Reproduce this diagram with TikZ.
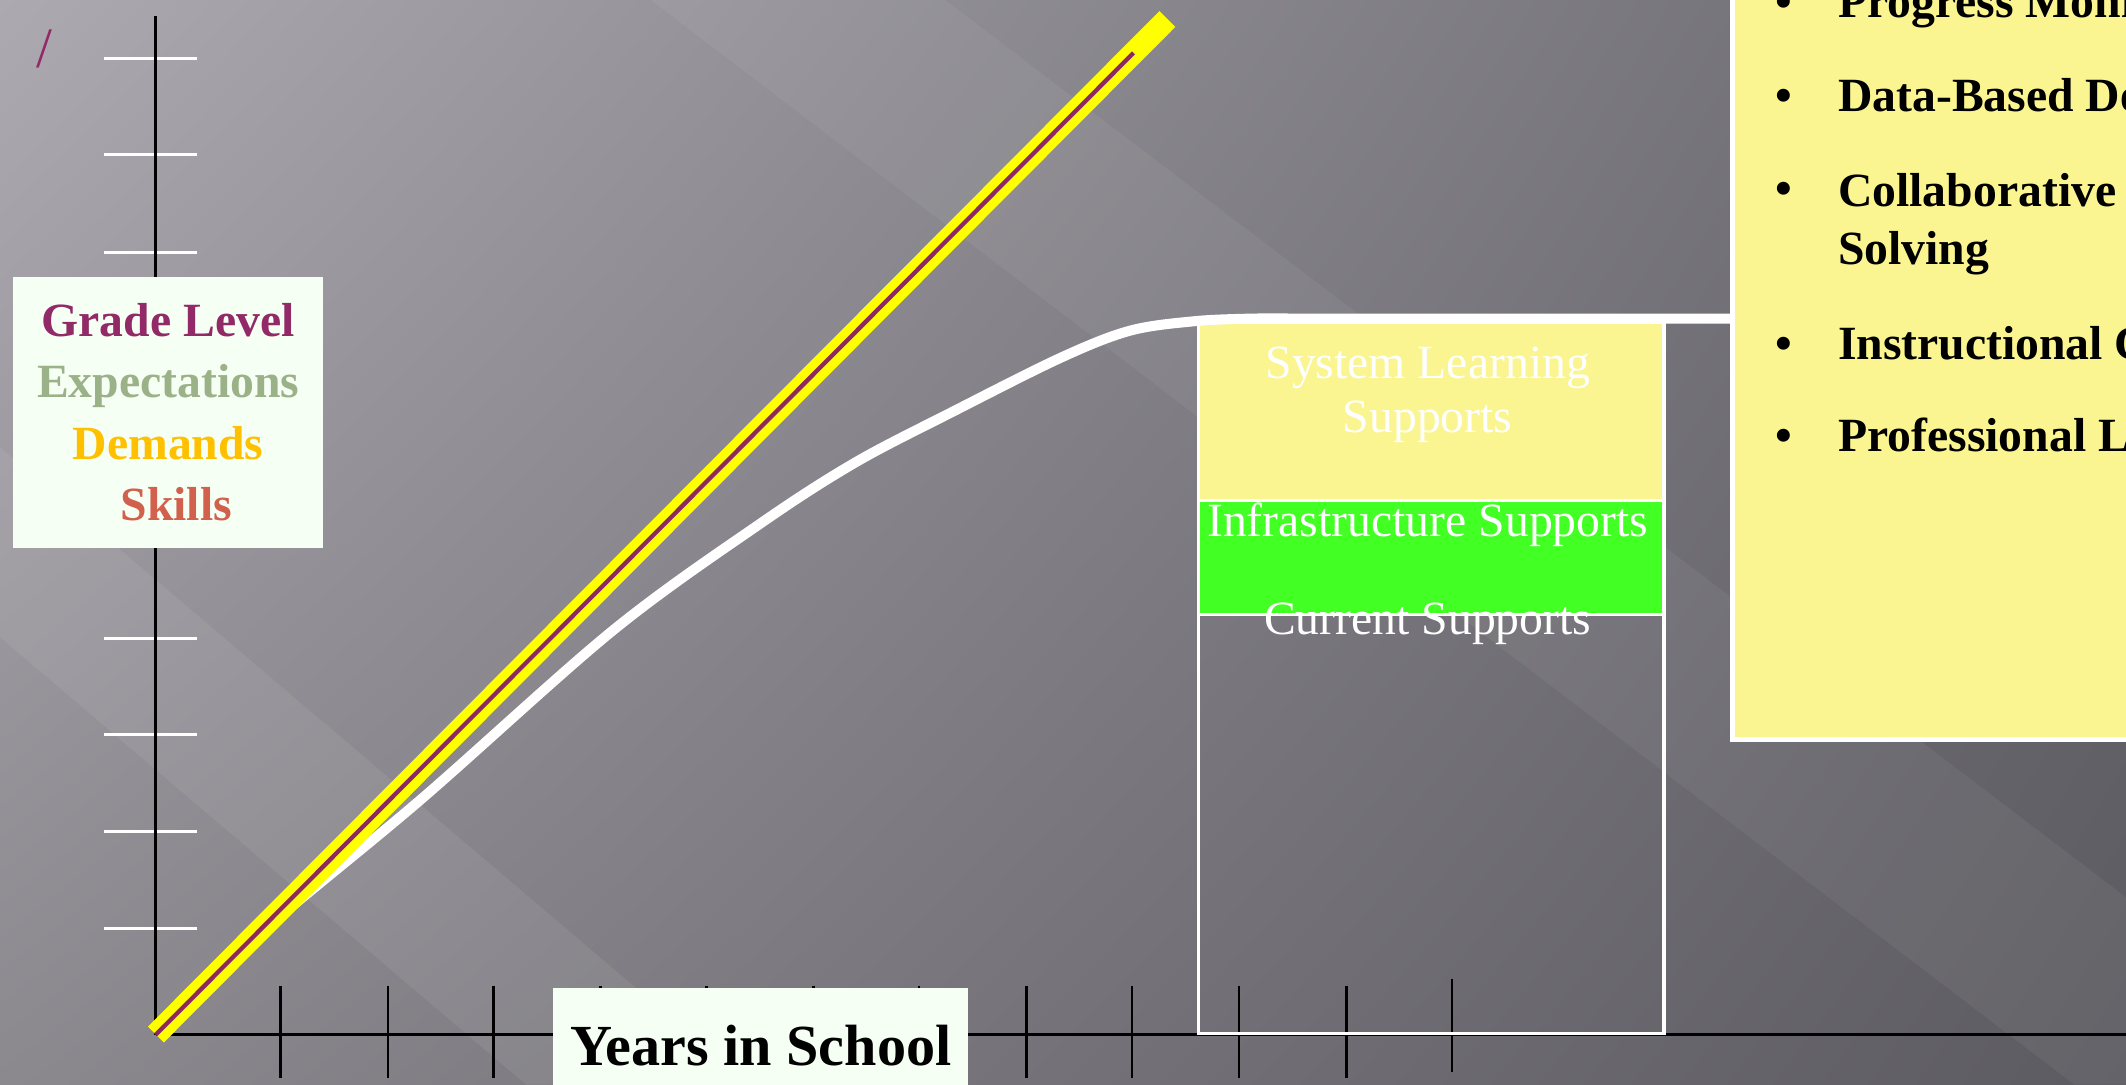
\documentclass[tikz,border=0pt]{standalone}
\usepackage{fontspec}
\setmainfont{Liberation Serif}
\usepackage{xcolor}
\usepackage{tikz}
\usetikzlibrary{positioning,shadings}
\definecolor{bgUL}{HTML}{ACA9B0}
\definecolor{bgUR}{HTML}{6B6A70}
\definecolor{bgLL}{HTML}{8B888E}
\definecolor{bgLR}{HTML}{5C5B61}
\definecolor{paperWhite}{HTML}{F6FFF4}
\definecolor{noteYellow}{HTML}{FAF590}
\definecolor{infraGreen}{HTML}{42FF24}
\definecolor{gradePurple}{HTML}{912A67}
\definecolor{expectGreen}{HTML}{9BB188}
\definecolor{demandGold}{HTML}{FFC000}
\definecolor{skillRed}{HTML}{D1604D}
\definecolor{lineYellow}{HTML}{FFFF00}
\definecolor{linePurple}{HTML}{8E2860}
\tikzstyle{paperbox} = [rectangle, fill=paperWhite, inner sep=0pt, outer sep=0pt]
\tikzstyle{suppbox} = [rectangle, draw=white, line width=0.7pt,
    minimum width=3.43cm, inner sep=0pt, outer sep=0pt]
\tikzstyle{supptext} = [text=white, font=\fontsize{10}{11.4}\selectfont, align=center, inner sep=0pt]
\tikzstyle{listitem} = [anchor=base west, inner sep=0pt, font=\fontsize{10}{12.2}\selectfont\bfseries]
\tikzstyle{bulletdot} = [anchor=base, inner sep=0pt, font=\fontsize{10}{12.2}\selectfont\bfseries]
\tikzstyle{ytick} = [draw=white, line width=0.6pt]
\tikzstyle{xtick} = [draw=black, line width=0.5pt]
\tikzstyle{axisline} = [draw=black, line width=0.65pt]
\tikzstyle{growthline} = [draw=white, line width=2.1pt]
\tikzstyle{expectband} = [draw=lineYellow, line width=4.7pt]
\tikzstyle{expectline} = [draw=linePurple, line width=0.9pt]

\begin{document}
\begin{tikzpicture}[x=0.01cm, y=-0.01cm]
			\useasboundingbox (0,0) rectangle (1568,800);
			\clip (0,0) rectangle (1568,800);
			% Background
			\shade [upper left=bgUL, upper right=bgUR, lower left=bgLL, lower right=bgLR] (0,0) rectangle (1568,800);
			\fill [white, opacity=0.07] (0,330) -- (553,800) -- (388,800) -- (0,470) -- cycle;
			\fill [white, opacity=0.05] (480,0) -- (697,0) -- (1750,800) -- (1530,800) -- cycle;
			\node [text=gradePurple, inner sep=0pt, font=\fontsize{12}{14}\selectfont] (slashMark) at (33,36) {/};

			% Axes and ticks
			\coordinate (origin) at (115,763);
			\coordinate (yTop) at (115,12);
			\coordinate (xEnd) at (1570,763);
			\path [ytick] (77,43) -- (145,43) (77,114) -- (145,114) (77,186) -- (145,186)
				(77,257) -- (145,257) (77,328) -- (145,328) (77,400) -- (145,400)
				(77,471) -- (145,471) (77,542) -- (145,542) (77,613) -- (145,613) (77,685) -- (145,685);
			\path [axisline] (origin) -- (yTop);
			\path [axisline] (origin) -- (xEnd);
			\path [xtick] (207,727) -- (207,795) (286,727) -- (286,795) (364,727) -- (364,795)
				(443,727) -- (443,795) (521,727) -- (521,795) (600,727) -- (600,795)
				(678,727) -- (678,795) (757,727) -- (757,795) (835,727) -- (835,795)
				(914,727) -- (914,795) (993,727) -- (993,795) (1071,722) -- (1071,791);

			% Supports column
			\node [suppbox, fill=noteYellow, minimum height=1.31cm, anchor=north west] (systemBox) at (884,238) {};
			\node [suppbox, fill=infraGreen, minimum height=0.84cm, below=0pt of systemBox] (infraBox) {};
			\node [suppbox, minimum height=3.09cm, below=0pt of infraBox] (currentBox) {};
			\node [supptext] (systemText) at (1053,291) {System Learning\\Supports};
			\node [supptext, anchor=base] (infraText) at (1053,396) {Infrastructure Supports};
			\node [supptext, anchor=base] (currentText) at (1053,468) {Current Supports};

			% Growth curves
			\coordinate (yellowEnd) at (861,14);
			\coordinate (purpleEnd) at (836,39);
			\coordinate (plateauEnd) at (1280,235);
			\draw [growthline] plot [smooth, tension=0.55] coordinates {(116,762) (190,690) (310,590) (452,465)
				(561,386) (631,341) (702,304) (782,264) (833,244) (880,237) (922,235) (960,235)} -- (plateauEnd);
			\path [expectband] (origin) -- (yellowEnd);
			\path [expectline] (origin) -- (purpleEnd);

			% Labels
			\node [paperbox, minimum width=2.28cm, minimum height=2cm, align=center,
				font=\fontsize{10}{12.9}\selectfont\bfseries] (gradeBox) at (124,304)
				{\textcolor{gradePurple}{Grade Level}\\\textcolor{expectGreen}{Expectations}\\
				\textcolor{demandGold}{Demands}\\\hspace*{0.12cm}\textcolor{skillRed}{Skills}};
			\node [paperbox, minimum width=3.06cm, minimum height=0.84cm, anchor=north west,
				font=\fontsize{12.2}{14}\selectfont\bfseries] (yearsBox) at (408,729) {Years in School};

			% Practices
			\node [rectangle, draw=white, line width=1pt, fill=noteYellow, minimum width=3.4cm,
				minimum height=6cm, inner sep=0pt, anchor=south west] (toolsBox) at (1276,547) {};
			\node [bulletdot] (dotProgress) at (1316,13) {•};
			\node [listitem] (progress) at (1355,13) {Progress Monitoring};
			\node [bulletdot] (dotData) at (1316,82) {•};
			\node [listitem] (dataBased) at (1355,82) {Data-Based Decision Making};
			\node [bulletdot] (dotCollab) at (1316,151) {•};
			\node [listitem, anchor=north west, align=left] (collab) at (1355,127) {Collaborative Problem\\Solving};
			\node [bulletdot] (dotInstr) at (1316,265) {•};
			\node [listitem] (instr) at (1355,265) {Instructional Coaching};
			\node [bulletdot] (dotProf) at (1316,333) {•};
			\node [listitem] (prof) at (1355,333) {Professional Learning};
%
	\end{tikzpicture}
\end{document}
